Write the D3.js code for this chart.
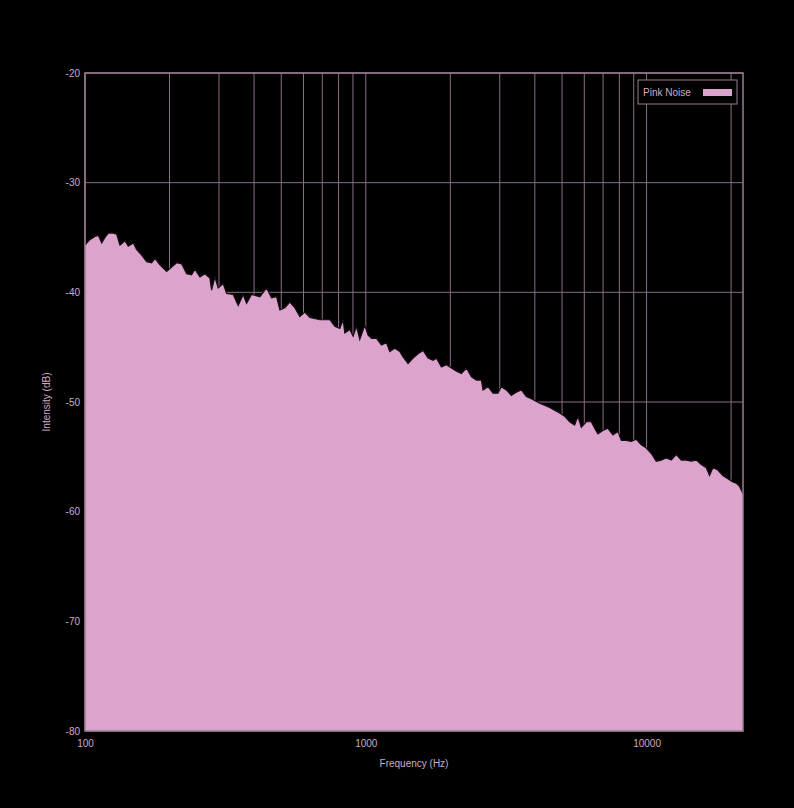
<!DOCTYPE html>
<html>
<head>
<meta charset="utf-8">
<script src="https://cdn.jsdelivr.net/npm/d3@7"></script>
<style>
  body { margin: 0; background: #000; }
  svg { display: block; }
  .tick text { fill: #d2a8c6; font-family: "Liberation Sans", Arial, sans-serif; font-size: 10px; }
</style>
</head>
<body>
<div id="chart"></div>
<script>
var svgWidth = 794;
var svgHeight = 808;

var margin = { top: 73, right: 51, bottom: 77, left: 85 };
var width = svgWidth - margin.left - margin.right;
var height = svgHeight - margin.top - margin.bottom;

// Spectrum: frequency (Hz) and intensity (dB)
var freqs = [100, 104, 108.5, 111.5, 114.7, 117.8, 121.1, 126.1, 129.7, 133.2,
  138.8, 142.6, 148.6, 152.8, 159.1, 165.8, 172.7, 177.5, 184.9, 195.3,
  203.5, 212.1, 220.9, 230.1, 239.7, 246.4, 256.7, 267.3, 278.5, 282.4,
  290.1, 298.1, 310.6, 319.4, 337.2, 351.3, 365.9, 376.2, 391.9, 419.6,
  443.3, 461.8, 481.1, 494.3, 514.9, 536.4, 558.8, 582.2, 606.6, 632,
  686, 744.6, 775.8, 808.1, 830.3, 842, 877.3, 901.3, 926.8, 952,
  991.8, 1019, 1048, 1092, 1137, 1185, 1217, 1268, 1321, 1357,
  1414, 1474, 1535, 1600, 1666, 1736, 1785, 1860, 1937, 2018,
  2103, 2191, 2283, 2378, 2477, 2581, 2615, 2724, 2838, 2957,
  3038, 3166, 3298, 3436, 3580, 3729, 3886, 4161, 4516, 4901,
  5107, 5321, 5544, 5694, 5855, 6101, 6357, 6530, 6709, 6990,
  7283, 7588, 7906, 8128, 8469, 8824, 9193, 9575, 9975, 10392,
  10827, 11280, 11752, 12245, 12757, 13291, 13847, 14427, 15030, 15659,
  16315, 16760, 17219, 17940, 18688, 19469, 20283, 20857, 21429, 21910, 22050];

var intensity = [-35.7, -35.2, -34.9, -34.8, -35.5, -35.0, -34.6, -34.6, -34.7, -35.7,
  -35.3, -35.8, -35.5, -36.1, -36.6, -37.2, -37.3, -36.9, -37.5, -38.1,
  -37.7, -37.3, -37.4, -38.3, -38.4, -37.9, -38.6, -38.3, -38.7, -39.8,
  -38.6, -39.6, -39.2, -40.1, -40.2, -41.2, -40.2, -41.0, -40.2, -40.4,
  -39.6, -40.5, -40.4, -41.6, -41.4, -40.9, -41.4, -42.2, -41.8, -42.3,
  -42.5, -42.5, -43.1, -43.3, -42.5, -43.7, -43.4, -44.0, -43.1, -44.3,
  -43.0, -43.9, -44.2, -44.2, -44.8, -44.6, -45.4, -45.1, -45.4, -45.9,
  -46.5, -46.0, -45.6, -45.3, -46.0, -46.2, -46.0, -46.8, -46.6, -46.9,
  -47.2, -47.4, -46.9, -47.7, -48.0, -48.0, -48.9, -48.6, -49.2, -49.2,
  -48.6, -48.9, -49.4, -49.1, -48.9, -49.5, -49.7, -50.1, -50.5, -51.0,
  -51.3, -51.8, -52.1, -51.3, -52.3, -51.8, -51.8, -52.4, -52.9, -52.6,
  -52.4, -53.0, -52.7, -53.5, -53.5, -53.6, -53.4, -53.9, -54.2, -54.7,
  -55.4, -55.3, -55.1, -55.3, -54.8, -55.3, -55.3, -55.4, -55.3, -55.7,
  -56.0, -56.7, -56.0, -56.2, -56.7, -57.0, -57.3, -57.4, -57.7, -58.2, -58.4];

var xTicks = [100, 1000, 10000];
var xGrid = [200, 300, 400, 500, 600, 700, 800, 900,
  2000, 3000, 4000, 5000, 6000, 7000, 8000, 9000, 20000];
var yTicks = [-80, -70, -60, -50, -40, -30, -20];
var seriesName = "Pink Noise";

var data = freqs.map(function(f, i) { return { f: f, db: intensity[i] }; });

var svg = d3.select("#chart")
  .append("svg")
  .attr("width", svgWidth)
  .attr("height", svgHeight)
  .style("background", "#000");

var chartGroup = svg.append("g")
  .attr("transform", `translate(${margin.left}, ${margin.top})`);

var x = d3.scaleLog()
  .domain([100, 22050])
  .range([0, width]);

var y = d3.scaleLinear()
  .domain([-80, -20])
  .range([height, 0]);

// Grid
var gridColor = "#8a6d84";
var textColor = "#d2a8c6";

chartGroup.append("g")
  .selectAll("line")
  .data(xGrid.concat(xTicks))
  .enter()
  .append("line")
  .attr("x1", d => x(d))
  .attr("x2", d => x(d))
  .attr("y1", 0)
  .attr("y2", height)
  .attr("stroke", gridColor)
  .attr("stroke-width", 1);

chartGroup.append("g")
  .selectAll("line")
  .data(yTicks)
  .enter()
  .append("line")
  .attr("x1", 0)
  .attr("x2", width)
  .attr("y1", d => y(d))
  .attr("y2", d => y(d))
  .attr("stroke", gridColor)
  .attr("stroke-width", 1);

// Area
var area = d3.area()
  .x(d => x(d.f))
  .y0(height)
  .y1(d => y(d.db));

chartGroup.append("path")
  .datum(data)
  .attr("d", area)
  .attr("fill", "#dca4cc");

var line = d3.line()
  .x(d => x(d.f))
  .y(d => y(d.db));

chartGroup.append("path")
  .datum(data)
  .attr("d", line)
  .attr("fill", "none")
  .attr("stroke", "#1a0c16")
  .attr("stroke-width", 1.2);

// Frame
chartGroup.append("rect")
  .attr("width", width)
  .attr("height", height)
  .attr("fill", "none")
  .attr("stroke", "#9c7c94")
  .attr("stroke-width", 1.5);

// Axes (plain hyphen minus like the original)
var fmt = d => String(d);

var bottomAxis = d3.axisBottom(x)
  .tickValues(xTicks)
  .tickFormat(fmt)
  .tickSize(0)
  .tickPadding(9);

var leftAxis = d3.axisLeft(y)
  .tickValues(yTicks)
  .tickFormat(fmt)
  .tickSize(0)
  .tickPadding(5);

chartGroup.append("g")
  .attr("transform", `translate(0, ${height})`)
  .call(bottomAxis)
  .call(g => g.select(".domain").remove());

chartGroup.append("g")
  .call(leftAxis)
  .call(g => g.select(".domain").remove());

// Axis labels
chartGroup.append("text")
  .attr("transform", `translate(${width / 2}, ${height + 36})`)
  .attr("text-anchor", "middle")
  .attr("fill", textColor)
  .attr("font-family", "Liberation Sans, Arial, sans-serif")
  .attr("font-size", "10px")
  .text("Frequency (Hz)");

chartGroup.append("text")
  .attr("transform", "rotate(-90)")
  .attr("x", -height / 2)
  .attr("y", -35)
  .attr("text-anchor", "middle")
  .attr("fill", textColor)
  .attr("font-family", "Liberation Sans, Arial, sans-serif")
  .attr("font-size", "10px")
  .text("Intensity (dB)");

// Legend
var legend = chartGroup.append("g")
  .attr("transform", `translate(${width - 105}, 7)`);

legend.append("rect")
  .attr("width", 99)
  .attr("height", 24)
  .attr("fill", "#000")
  .attr("stroke", "#9c7c94")
  .attr("stroke-width", 1);

legend.append("text")
  .attr("x", 5)
  .attr("y", 15.5)
  .attr("fill", textColor)
  .attr("font-family", "Liberation Sans, Arial, sans-serif")
  .attr("font-size", "10px")
  .text(seriesName);

legend.append("rect")
  .attr("x", 65)
  .attr("y", 9)
  .attr("width", 29)
  .attr("height", 7)
  .attr("fill", "#dca4cc");
</script>
</body>
</html>
